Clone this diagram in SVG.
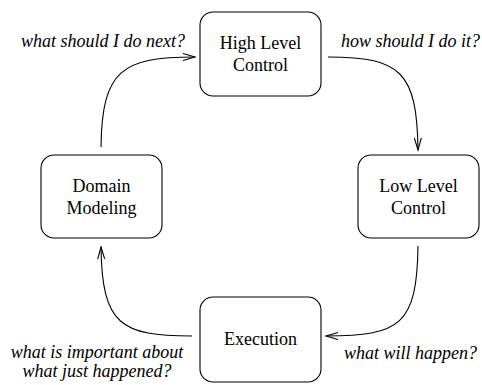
<svg xmlns="http://www.w3.org/2000/svg" width="482" height="385" viewBox="0 0 482 385">
<style>
.box{fill:#fff;stroke:#000;stroke-width:1.1}
.t{font-family:"Liberation Serif","Times New Roman",serif;font-size:18px;fill:#000;text-anchor:middle}
.q{font-family:"Liberation Serif","Times New Roman",serif;font-size:18px;font-style:italic;fill:#000}
.e{fill:none;stroke:#000;stroke-width:1.1}
</style>
<defs>
<marker id="arr" markerWidth="16" markerHeight="10" refX="12" refY="4" orient="auto" markerUnits="userSpaceOnUse" overflow="visible">
<path d="M0,0.5 L12,4 L0,7.5" fill="none" stroke="#000" stroke-width="1.1"/>
</marker>
</defs>
<rect width="482" height="385" fill="#fff"/>
<g id="edges">
<path class="e" d="M101,147 C102,70 122,57 195,57" marker-end="url(#arr)"/>
<path class="e" d="M328,57 C401,57 417,72 418,150" marker-end="url(#arr)"/>
<path class="e" d="M418,246 C417,325 400,336 326,336" marker-end="url(#arr)"/>
<path class="e" d="M192,336 C121,336 102,325 101,247" marker-end="url(#arr)"/>
</g>
<g id="high">
<rect class="box" x="200" y="12" width="121" height="84" rx="13"/>
<text class="t" x="260.5" y="49">High Level</text>
<text class="t" x="260.5" y="71">Control</text>
</g>
<g id="low">
<rect class="box" x="358" y="155" width="121" height="83" rx="13"/>
<text class="t" x="418.5" y="192">Low Level</text>
<text class="t" x="418.5" y="214">Control</text>
</g>
<g id="exec">
<rect class="box" x="200" y="297" width="121" height="85" rx="13"/>
<text class="t" x="260.5" y="345">Execution</text>
</g>
<g id="domain">
<rect class="box" x="41" y="155" width="121" height="83" rx="13"/>
<text class="t" x="101.5" y="192">Domain</text>
<text class="t" x="101.5" y="214">Modeling</text>
</g>
<g id="labels">
<text class="q" x="185" y="47" text-anchor="end">what should I do next?</text>
<text class="q" x="341" y="47">how should I do it?</text>
<text class="q" x="97" y="358" text-anchor="middle">what is important about</text>
<text class="q" x="97" y="377" text-anchor="middle">what just happened?</text>
<text class="q" x="344" y="359">what will happen?</text>
</g>
</svg>
